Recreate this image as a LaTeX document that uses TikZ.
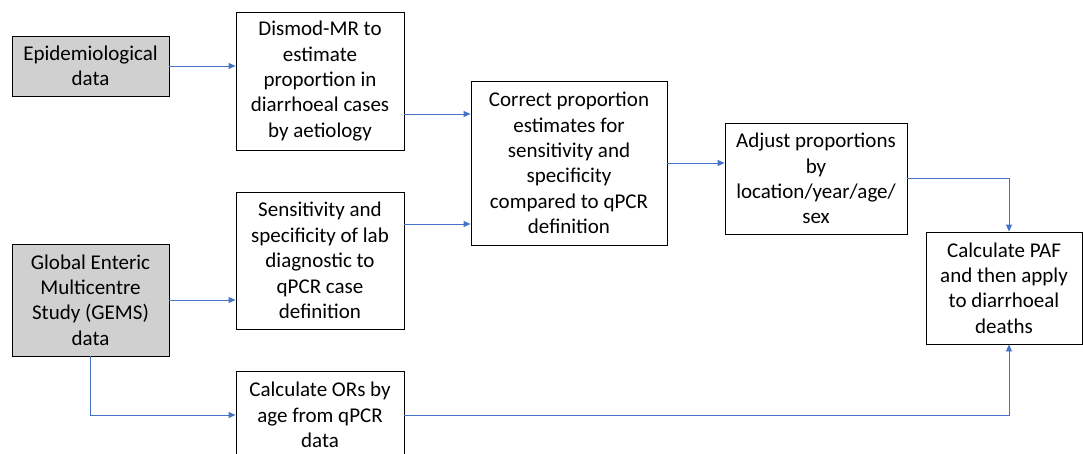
\documentclass[tikz,border=0pt]{standalone}
\usepackage{fontspec}
\setmainfont{Carlito}
\usetikzlibrary{arrows.meta}
\definecolor{boxgray}{HTML}{D0D0D0}
\definecolor{arrowblue}{HTML}{4472C4}
\tikzset{
  box/.style={draw=black, line width=0.9pt, rectangle, align=center, inner sep=0pt,
    font=\fontsize{21}{25.4}\selectfont, text=black},
  graybox/.style={box, fill=boxgray},
  link/.style={draw=arrowblue, line width=0.9pt, -{Triangle[length=7pt,width=6pt]}},
  linkplain/.style={draw=arrowblue, line width=0.9pt}
}
\begin{document}
\begin{tikzpicture}[x=1pt,y=-1pt]
\clip (0,0) rectangle (1083,453);
\fill[white] (0,0) rectangle (1083,453);
% sources
\node[graybox, minimum width=157pt, minimum height=60pt] (epi) at (90.5,66) {Epidemiological\\data};
\node[graybox, minimum width=157pt, minimum height=112pt] (gems) at (90.5,300) {Global Enteric\\Multicentre\\Study (GEMS)\\data};
% middle column
\node[box, minimum width=168pt, minimum height=138pt] (dismod) at (320,81) {Dismod-MR to\\estimate\\proportion in\\diarrhoeal cases\\by aetiology};
\node[box, minimum width=168pt, minimum height=137pt] (sens) at (320,260.5) {Sensitivity and\\specificity of lab\\diagnostic to\\qPCR case\\definition};
\node[box, minimum width=168pt, minimum height=88pt] (ors) at (320,415) {Calculate ORs by\\age from qPCR\\data};
% right part
\node[box, minimum width=196pt, minimum height=164pt] (correct) at (569,163) {Correct proportion\\estimates for\\sensitivity and\\specificity\\compared to qPCR\\definition};
\node[box, minimum width=182pt, minimum height=111pt] (adjust) at (816,178.5) {Adjust proportions\\by\\location/year/age/\\sex};
\node[box, minimum width=156pt, minimum height=112pt] (paf) at (1004,288) {Calculate PAF\\and then apply\\to diarrhoeal\\deaths};
% junction coordinates
\coordinate (d1) at (0,114);
\coordinate (s1) at (0,224);
\coordinate (pc) at (1009,0);
% connectors
\draw[link] (epi.east) -- (epi.east -| dismod.west);
\draw[link] (gems.east) -- (gems.east -| sens.west);
\draw[link] (gems.south) |- (ors.west);
\draw[link] (d1 -| dismod.east) -- (d1 -| correct.west);
\draw[link] (s1 -| sens.east) -- (s1 -| correct.west);
\draw[link] (correct.east) -- (correct.east -| adjust.west);
\draw[link] (adjust.east) -| (pc |- paf.north);
\draw[link] (ors.east) -| (pc |- paf.south);
\end{tikzpicture}
\end{document}
